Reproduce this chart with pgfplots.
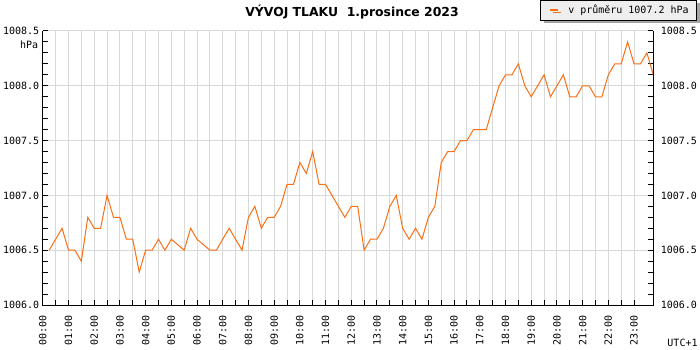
\documentclass[border=0pt]{standalone}
\usepackage{fontspec}
\setmainfont{DejaVu Sans}
\newfontfamily\monofont{DejaVu Sans Mono}
\usepackage{pgfplots}
\pgfplotsset{compat=1.18}
\usetikzlibrary{shadows}
\definecolor{lineor}{RGB}{250,110,20}
\definecolor{gridgray}{RGB}{217,217,217}
\definecolor{legbg}{RGB}{238,238,238}
\definecolor{shadowgray}{RGB}{165,165,165}
\newcommand{\mono}{\monofont\fontsize{10}{12}\selectfont}

\pgfplotstableread{
t p
0.25 1006.5
0.5 1006.6
0.75 1006.7
1.0 1006.5
1.25 1006.5
1.5 1006.4
1.75 1006.8
2.0 1006.7
2.25 1006.7
2.5 1007.0
2.75 1006.8
3.0 1006.8
3.25 1006.6
3.5 1006.6
3.75 1006.3
4.0 1006.5
4.25 1006.5
4.5 1006.6
4.75 1006.5
5.0 1006.6
5.25 1006.55
5.5 1006.5
5.75 1006.7
6.0 1006.6
6.25 1006.55
6.5 1006.5
6.75 1006.5
7.0 1006.6
7.25 1006.7
7.5 1006.6
7.75 1006.5
8.0 1006.8
8.25 1006.9
8.5 1006.7
8.75 1006.8
9.0 1006.8
9.25 1006.9
9.5 1007.1
9.75 1007.1
10.0 1007.3
10.25 1007.2
10.5 1007.4
10.75 1007.1
11.0 1007.1
11.25 1007.0
11.5 1006.9
11.75 1006.8
12.0 1006.9
12.25 1006.9
12.5 1006.5
12.75 1006.6
13.0 1006.6
13.25 1006.7
13.5 1006.9
13.75 1007.0
14.0 1006.7
14.25 1006.6
14.5 1006.7
14.75 1006.6
15.0 1006.8
15.25 1006.9
15.5 1007.3
15.75 1007.4
16.0 1007.4
16.25 1007.5
16.5 1007.5
16.75 1007.6
17.0 1007.6
17.25 1007.6
17.5 1007.8
17.75 1008.0
18.0 1008.1
18.25 1008.1
18.5 1008.2
18.75 1008.0
19.0 1007.9
19.25 1008.0
19.5 1008.1
19.75 1007.9
20.0 1008.0
20.25 1008.1
20.5 1007.9
20.75 1007.9
21.0 1008.0
21.25 1008.0
21.5 1007.9
21.75 1007.9
22.0 1008.1
22.25 1008.2
22.5 1008.2
22.75 1008.4
23.0 1008.2
23.25 1008.2
23.5 1008.3
23.75 1008.1
}\pressure

\begin{document}
\begin{tikzpicture}
\path[use as bounding box] (-42.8pt,-45pt) rectangle (657.2pt,305pt);
\begin{axis}[
  scale only axis, width=610.5pt, height=274pt,
  xmin=0, xmax=23.75, ymin=1006, ymax=1008.5,
  axis line style={draw=none},
  xtick={0,...,23},
  xticklabels={00:00,01:00,02:00,03:00,04:00,05:00,06:00,07:00,08:00,09:00,10:00,11:00,12:00,13:00,14:00,15:00,16:00,17:00,18:00,19:00,20:00,21:00,22:00,23:00},
  minor x tick num=1,
  ytick={1006,1006.5,1007,1007.5,1008,1008.5},
  minor y tick num=4,
  xtick pos=bottom, ytick pos=both,
  tick align=inside,
  major tick length=5pt, minor tick length=5pt,
  tick style={black, line width=1pt},
  xmajorgrids, xminorgrids, ymajorgrids,
  major grid style={gridgray, line width=1pt},
  minor grid style={gridgray, line width=1pt},
  xticklabel shift=7pt,
  x tick label style={rotate=90, anchor=east, font=\mono},
  yticklabel style={font=\mono, /pgf/number format/.cd, fixed, fixed zerofill, precision=1, 1000 sep={}},
  /pgf/number format/assume math mode=true,
  legend style={at={(1.0716,1.1131)}, anchor=north east, fill=legbg, draw=black, line width=0.7pt, font=\mono,
    drop shadow={shadow xshift=3pt, shadow yshift=-2.5pt, fill=shadowgray, opacity=1},
    inner xsep=8pt, inner ysep=5pt, nodes={inner sep=0pt}, column sep=0pt},
  legend image code/.code={\draw[lineor, line width=2pt] (0pt,0pt) -- (8pt,0pt); \path (18pt,0pt);},
]
\addplot[lineor, line width=1pt] table[x=t, y=p] {\pressure};
\addlegendentry{v průměru 1007.2 hPa}
\end{axis}
\begin{axis}[
  scale only axis, width=610.5pt, height=274pt,
  xmin=0, xmax=23.75, ymin=1006, ymax=1008.5,
  hide x axis, axis line style={draw=none},
  ytick={1006,1006.5,1007,1007.5,1008,1008.5},
  yticklabel pos=right, major tick length=0pt, tick style={draw=none},
  yticklabel shift=4pt,
  yticklabel style={font=\mono, /pgf/number format/.cd, fixed, fixed zerofill, precision=1, 1000 sep={}},
  /pgf/number format/assume math mode=true,
]
\end{axis}
\draw[black, line width=1pt] (0pt,274pt) -- (0pt,0pt) -- (610.5pt,0pt) -- (610.5pt,274pt);
\node[anchor=east, font=\mono, inner sep=0pt] at (-4.5pt,260pt) {hPa};
\node[font=\bfseries\fontsize{12.4}{14}\selectfont] at (309.2pt,293pt) {VÝVOJ TLAKU\ \ 1.prosince 2023};
\node[font=\mono] at (639.7pt,-38pt) {UTC+1};
\end{tikzpicture}
\end{document}
